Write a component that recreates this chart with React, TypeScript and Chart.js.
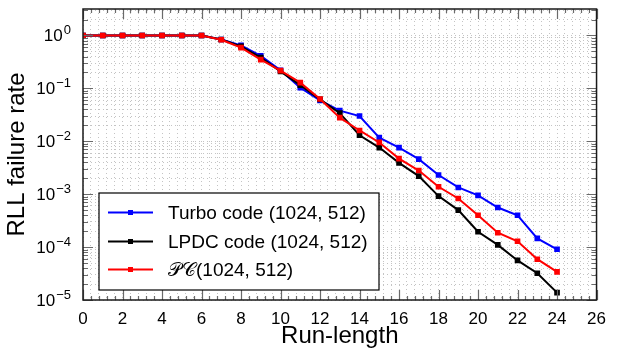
import { useEffect, useRef } from 'react';
import { Chart, registerables } from 'chart.js';

Chart.register(...registerables);

const FONT = '"Liberation Sans", Arial, sans-serif';

const runLengths = [0, 1, 2, 3, 4, 5, 6, 7, 8, 9, 10, 11, 12, 13, 14, 15, 16, 17, 18, 19, 20, 21, 22, 23, 24];
const turboValues = [1, 1, 1, 1, 1, 1, 1, 0.84, 0.65, 0.41, 0.22, 0.103, 0.059, 0.038, 0.03, 0.0117, 0.0076, 0.0046, 0.0023, 0.00134, 0.00095, 0.00056, 0.0004, 0.000146, 0.000091];
const ldpcValues = [1, 1, 1, 1, 1, 1, 1, 0.84, 0.62, 0.38, 0.21, 0.115, 0.062, 0.034, 0.013, 0.0076, 0.0039, 0.0022, 0.00092, 0.0005, 0.000195, 0.00011, 0.000056, 0.000032, 0.0000138];
const pcValues = [1, 1, 1, 1, 1, 1, 1, 0.83, 0.59, 0.35, 0.216, 0.128, 0.063, 0.028, 0.016, 0.0095, 0.0047, 0.0028, 0.00138, 0.00083, 0.0004, 0.000187, 0.000129, 0.000059, 0.000034];

const seriesLabels = ['Turbo code (1024, 512)', 'LPDC code (1024, 512)', '\u{1D4AB}\u{1D49E}(1024, 512)'];
const seriesColors = ['#0000ff', '#000000', '#ff0000'];

const xMin = 0;
const xMax = 26;
const xMajorStep = 2;
const xMinorStep = 0.4;
const yExponents = [-5, -4, -3, -2, -1, 0];
const yMin = 1e-5;
const yMax = Math.pow(10, 0.5);

const xTickValues: number[] = [];
for (let i = 0; i * xMinorStep <= xMax + 1e-9; i++) xTickValues.push(Math.round(i * xMinorStep * 10) / 10);
const isMajorX = (v: number) => Math.abs(v / xMajorStep - Math.round(v / xMajorStep)) < 1e-6;

const yTickValues: number[] = [];
for (const e of yExponents) {
  for (let k = 1; k <= 9; k++) {
    const v = k * Math.pow(10, e);
    if (v <= yMax * 1.0001) yTickValues.push(v);
  }
}

const framePlugin = {
  id: 'framePlugin',
  afterDraw(chart: any) {
    const { ctx, chartArea } = chart;
    const xs = chart.scales.x;
    const ys = chart.scales.y;
    const { left, right, top, bottom } = chartArea;
    ctx.save();
    // tick marks
    ctx.strokeStyle = '#6a6a6a';
    ctx.lineWidth = 1.2;
    ctx.beginPath();
    for (const v of xTickValues) {
      const px = Math.round(xs.getPixelForValue(v)) + 0.5;
      const len = isMajorX(v) ? 10 : 4;
      ctx.moveTo(px, bottom);
      ctx.lineTo(px, bottom - len);
      ctx.moveTo(px, top);
      ctx.lineTo(px, top + len);
    }
    for (const v of yTickValues) {
      const py = Math.round(ys.getPixelForValue(v)) + 0.5;
      const e = Math.log10(v);
      const len = Math.abs(e - Math.round(e)) < 1e-9 ? 10 : 5;
      ctx.moveTo(left, py);
      ctx.lineTo(left + len, py);
      ctx.moveTo(right, py);
      ctx.lineTo(right - len, py);
    }
    ctx.stroke();
    // frame
    ctx.strokeStyle = '#1a1a1a';
    ctx.lineWidth = 1.5;
    ctx.strokeRect(left, top, right - left, bottom - top);
    // y labels 10^e
    ctx.fillStyle = '#000';
    ctx.textAlign = 'right';
    ctx.textBaseline = 'middle';
    for (const e of yExponents) {
      const py = ys.getPixelForValue(Math.pow(10, e));
      const expText = e === 0 ? '0' : '\u2212' + Math.abs(e);
      ctx.font = `13px ${FONT}`;
      const ew = ctx.measureText(expText).width;
      ctx.fillText(expText, left - 12, py - 5);
      ctx.font = `17px ${FONT}`;
      ctx.fillText('10', left - 12 - ew - 1, py + 1);
    }
    // legend
    const bx = left + 16;
    const by = top + 184;
    const bw = 280;
    const bh = 97;
    ctx.fillStyle = '#fff';
    ctx.fillRect(bx, by, bw, bh);
    ctx.strokeStyle = '#000';
    ctx.lineWidth = 1.2;
    ctx.strokeRect(bx, by, bw, bh);
    const rowYs = [by + 19.5, by + 48.5, by + 76.5];
    chart.data.datasets.forEach((ds: any, i: number) => {
      const ry = rowYs[i];
      ctx.strokeStyle = ds.borderColor;
      ctx.lineWidth = 2;
      ctx.beginPath();
      ctx.moveTo(bx + 9, ry);
      ctx.lineTo(bx + 54, ry);
      ctx.stroke();
      ctx.fillStyle = ds.borderColor;
      ctx.fillRect(bx + 31.5 - 2.5, ry - 2.5, 5, 5);
      ctx.fillStyle = '#000';
      ctx.textAlign = 'left';
      ctx.textBaseline = 'middle';
      ctx.font = `19px ${FONT}`;
      ctx.fillText(ds.label, bx + 69, ry + 1);
    });
    ctx.restore();
  },
};

export default function App() {
  const ref = useRef<HTMLCanvasElement>(null);
  useEffect(() => {
    const canvas = ref.current;
    if (!canvas) return;
    const valueSets = [turboValues, ldpcValues, pcValues];
    const chart = new Chart(canvas, {
      type: 'line',
      data: {
        labels: runLengths,
        datasets: valueSets.map((vals, i) => ({
          label: seriesLabels[i],
          data: runLengths.map((x, j) => ({ x, y: vals[j] })),
          borderColor: seriesColors[i],
          backgroundColor: seriesColors[i],
          borderWidth: 2,
          pointStyle: 'rect',
          pointRadius: 4,
          pointBorderWidth: 0,
          tension: 0,
          order: 2 - i,
        })),
      },
      options: {
        animation: false,
        responsive: false,
        devicePixelRatio: 1,
        layout: { padding: { top: 9, right: 11, left: 0, bottom: 0 } },
        plugins: { legend: { display: false }, tooltip: { enabled: false } },
        scales: {
          x: {
            type: 'linear',
            min: xMin,
            max: xMax,
            afterBuildTicks: (s: any) => {
              s.ticks = xTickValues.map((v) => ({ value: v }));
            },
            afterFit: (s: any) => {
              s.height = 52;
            },
            ticks: {
              autoSkip: false,
              maxRotation: 0,
              padding: 11,
              color: '#000',
              font: { family: FONT, size: 17, lineHeight: 1 },
              callback: (v: any) => (isMajorX(Number(v)) ? String(Math.round(Number(v))) : ''),
            },
            grid: { color: '#c4c4c4', lineWidth: 1, drawTicks: false },
            border: { display: false, dash: [1, 3] },
            title: {
              display: true,
              text: 'Run-length',
              color: '#000',
              font: { family: FONT, size: 24, lineHeight: 1 },
              padding: { top: 0, bottom: 4 },
            },
          },
          y: {
            type: 'logarithmic',
            min: yMin,
            max: yMax,
            afterBuildTicks: (s: any) => {
              s.ticks = yTickValues.map((v) => ({ value: v }));
            },
            afterFit: (s: any) => {
              s.width = 83;
            },
            ticks: { display: false },
            grid: { color: '#c4c4c4', lineWidth: 1, drawTicks: false },
            border: { display: false, dash: [1, 3] },
            title: {
              display: true,
              text: 'RLL failure rate',
              color: '#000',
              font: { family: FONT, size: 24, lineHeight: 1 },
              padding: { top: 5, bottom: 0 },
            },
          },
        },
      },
      plugins: [framePlugin],
    } as any);
    return () => chart.destroy();
  }, []);
  return (
    <div style={{ position: 'fixed', left: 0, top: 0, width: 617, height: 352 }}>
      <canvas ref={ref} width={617} height={352} style={{ display: 'block', width: 617, height: 352 }} />
    </div>
  );
}
